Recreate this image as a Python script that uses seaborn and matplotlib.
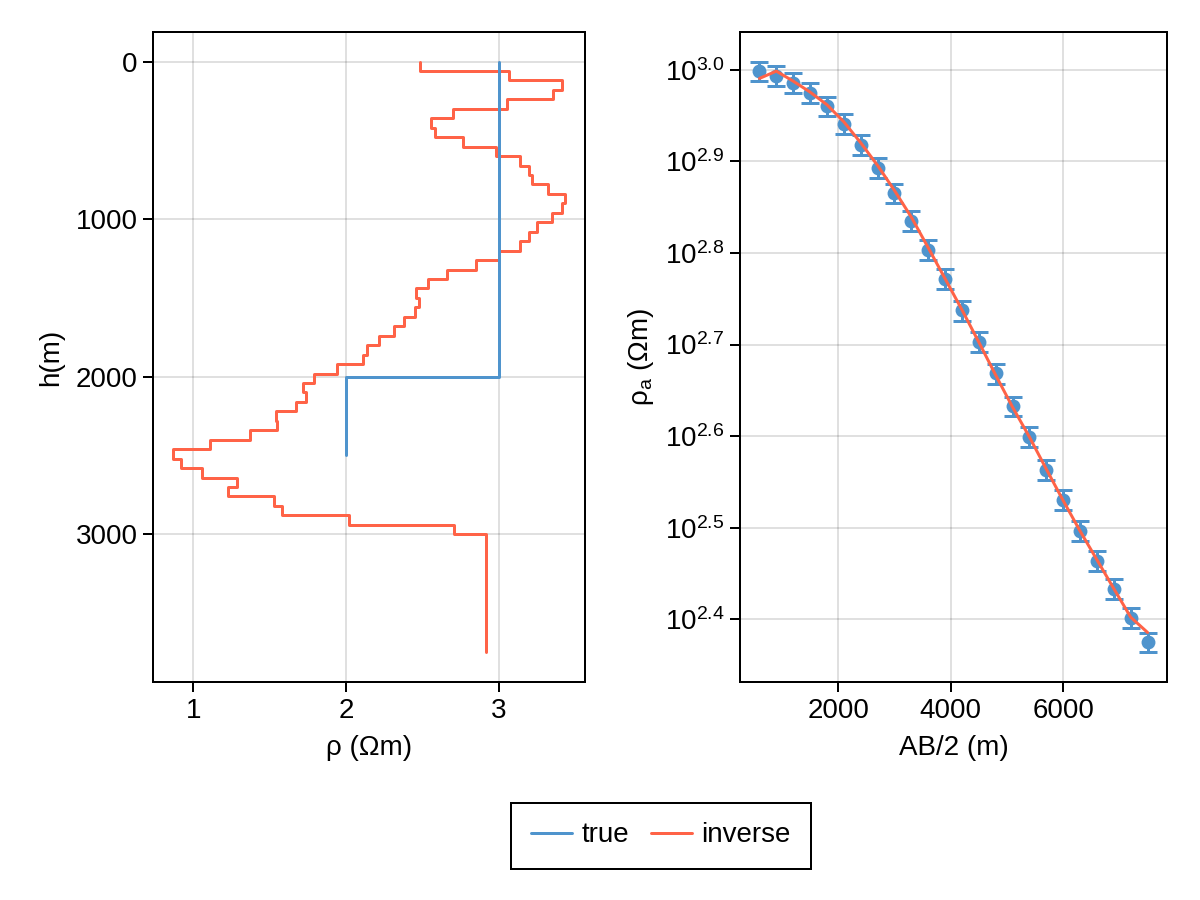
import numpy as np
import pandas as pd
import matplotlib
matplotlib.use("Agg")
import matplotlib.pyplot as plt
import seaborn as sns
from matplotlib.ticker import FixedLocator, FuncFormatter, NullLocator
from matplotlib.lines import Line2D

# ---------------- data ----------------
# true layered model (resistivity in Ωm, layer boundaries in m)
true_rho = [3.0, 2.0]
true_depth = [0, 2000, 2500]

# inverted model
inv_rho = [2.487, 3.068, 3.412, 3.353, 3.053, 2.700, 2.557, 2.579, 2.765, 2.985,
           3.136, 3.195, 3.217, 3.325, 3.436, 3.414, 3.346, 3.248, 3.195, 3.136,
           3.002, 2.853, 2.658, 2.535, 2.458, 2.476, 2.454, 2.377, 2.311, 2.215,
           2.140, 2.110, 1.943, 1.789, 1.719, 1.737, 1.675, 1.539, 1.548, 1.373,
           1.110, 0.864, 0.919, 1.057, 1.285, 1.226, 1.531, 1.583, 2.022, 2.706,
           2.919]
inv_depth = [0, 60, 120, 180, 240, 300, 360, 420, 480, 540,
             600, 660, 720, 780, 840, 900, 960, 1020, 1080, 1140,
             1200, 1260, 1320, 1380, 1440, 1500, 1560, 1620, 1680, 1740,
             1800, 1860, 1920, 1980, 2040, 2100, 2160, 2220, 2280, 2340,
             2400, 2460, 2520, 2580, 2640, 2700, 2760, 2820, 2880, 2940,
             3000, 3750]

# sounding curve
ab2 = [600, 900, 1200, 1500, 1800, 2100, 2400, 2700, 3000, 3300, 3600, 3900,
       4200, 4500, 4800, 5100, 5400, 5700, 6000, 6300, 6600, 6900, 7200, 7500]
rho_obs = [996, 984, 968, 944, 912, 873, 828, 782, 733, 684, 636, 591,
           546, 504, 466, 429, 397, 366, 339, 314, 291, 271, 252, 237]
rho_err = [24.9, 24.6, 24.2, 23.6, 22.8, 21.8, 20.7, 19.6, 18.3, 17.1, 15.9, 14.8,
           13.7, 12.6, 11.7, 10.7, 9.9, 9.2, 8.5, 7.9, 7.3, 6.8, 6.3, 5.9]
rho_fit = [978.4, 996.6, 971.9, 945.5, 915.9, 877.4, 832.4, 786.3, 738.4, 690.5,
           639.4, 591.5, 547.0, 504.2, 464.1, 428.2, 397.2, 366.4, 338.5, 313.6,
           291.7, 271.3, 252.5, 243.0]

log_ticks = [2.4, 2.5, 2.6, 2.7, 2.8, 2.9, 3.0]
left_xticks = [1, 2, 3]
left_yticks = [0, 1000, 2000, 3000]
right_xticks = [2000, 4000, 6000]
legend_labels = ["true", "inverse"]

BLUE = "#4F94CD"
RED = "#FF6347"
LW = 2.16

# ---------------- style ----------------
sns.set_theme(style="white")
plt.rcParams["font.family"] = ["Liberation Sans", "DejaVu Sans"]
plt.rcParams.update({
    "axes.linewidth": 1.44,
    "axes.edgecolor": "black",
    "xtick.direction": "out",
    "ytick.direction": "out",
    "xtick.major.size": 7.2,
    "ytick.major.size": 7.2,
    "xtick.major.width": 1.44,
    "ytick.major.width": 1.44,
    "xtick.major.pad": 4,
    "ytick.major.pad": 4,
    "xtick.labelsize": 20,
    "ytick.labelsize": 20,
    "axes.labelsize": 20,
    "xtick.color": "black",
    "ytick.color": "black",
    "axes.labelcolor": "black",
    "text.color": "black",
})


def stairs(rho, depth, label):
    xs, ys = [], []
    for i, r in enumerate(rho):
        xs += [r, r]
        ys += [depth[i], depth[i + 1]]
    return pd.DataFrame({"rho": xs, "h": ys, "model": label})


true_df = stairs(true_rho, true_depth, "true")
inv_df = stairs(inv_rho, inv_depth, "inverse")
sound_df = pd.DataFrame({"ab2": ab2, "obs": rho_obs, "err": rho_err, "fit": rho_fit})

fig = plt.figure(figsize=(12, 9), dpi=100)
ax1 = fig.add_axes([153 / 1200, 1 - 682 / 900, 432 / 1200, 650 / 900])
ax2 = fig.add_axes([740 / 1200, 1 - 682 / 900, 427 / 1200, 650 / 900])

# ---------------- left panel ----------------
sns.lineplot(data=inv_df, x="rho", y="h", sort=False, estimator=None,
             color=RED, lw=LW, ax=ax1, legend=False)
sns.lineplot(data=true_df, x="rho", y="h", sort=False, estimator=None,
             color=BLUE, lw=LW, ax=ax1, legend=False)
ax1.invert_yaxis()
ax1.xaxis.set_major_locator(FixedLocator(left_xticks))
ax1.yaxis.set_major_locator(FixedLocator(left_yticks))
ax1.set_xlabel("ρ (Ωm)", labelpad=8)
ax1.set_ylabel("h(m)", labelpad=8)

# ---------------- right panel ----------------
ax2.errorbar(sound_df["ab2"], sound_df["obs"], yerr=sound_df["err"], fmt="none",
             ecolor=BLUE, elinewidth=LW, capsize=6.8, capthick=LW, zorder=2)
sns.scatterplot(data=sound_df, x="ab2", y="obs", color=BLUE, s=100,
                linewidth=0, ax=ax2, zorder=3)
sns.lineplot(data=sound_df, x="ab2", y="fit", color=RED, lw=LW, ax=ax2, zorder=4)
ax2.set_yscale("log")
lo = np.log10(min(o - e for o, e in zip(rho_obs, rho_err)))
hi = np.log10(max(o + e for o, e in zip(rho_obs, rho_err)))
pad = 0.05 * (hi - lo)
ax2.set_ylim(10 ** (lo - pad), 10 ** (hi + pad))
xlo, xhi = min(ab2), max(ab2)
xpad = 0.05 * (xhi - xlo)
ax2.set_xlim(xlo - xpad, xhi + xpad)
ax2.yaxis.set_major_locator(FixedLocator([10 ** v for v in log_ticks]))
ax2.yaxis.set_major_formatter(FuncFormatter(
    lambda v, p: r"$\mathregular{10^{%.1f}}$" % np.log10(v)))
ax2.yaxis.set_minor_locator(NullLocator())
ax2.xaxis.set_major_locator(FixedLocator(right_xticks))
ax2.set_xlabel("AB/2 (m)", labelpad=8)
ax2.set_ylabel(r"ρ$_\mathregular{a}$ (Ωm)", labelpad=6)

for ax in (ax1, ax2):
    ax.grid(True, color="black", alpha=0.12, lw=1.44)
    ax.set_axisbelow(True)
    ax.tick_params(which="both", bottom=True, left=True, top=False, right=False)
    for s in ax.spines.values():
        s.set_visible(True)
        s.set_color("black")
        s.set_linewidth(1.44)

# ---------------- legend ----------------
handles = [Line2D([0], [0], color=BLUE, lw=LW), Line2D([0], [0], color=RED, lw=LW)]
leg = fig.legend(handles, legend_labels, loc="center",
                 bbox_to_anchor=(661 / 1200, 1 - 835.5 / 900), ncol=2,
                 frameon=True, fancybox=False, fontsize=20, handlelength=1.45,
                 handletextpad=0.35, columnspacing=0.8, borderpad=0.72,
                 borderaxespad=0)
leg.get_frame().set_edgecolor("black")
leg.get_frame().set_linewidth(1.44)
leg.get_frame().set_alpha(1)

fig.savefig("out.png", dpi=100)
